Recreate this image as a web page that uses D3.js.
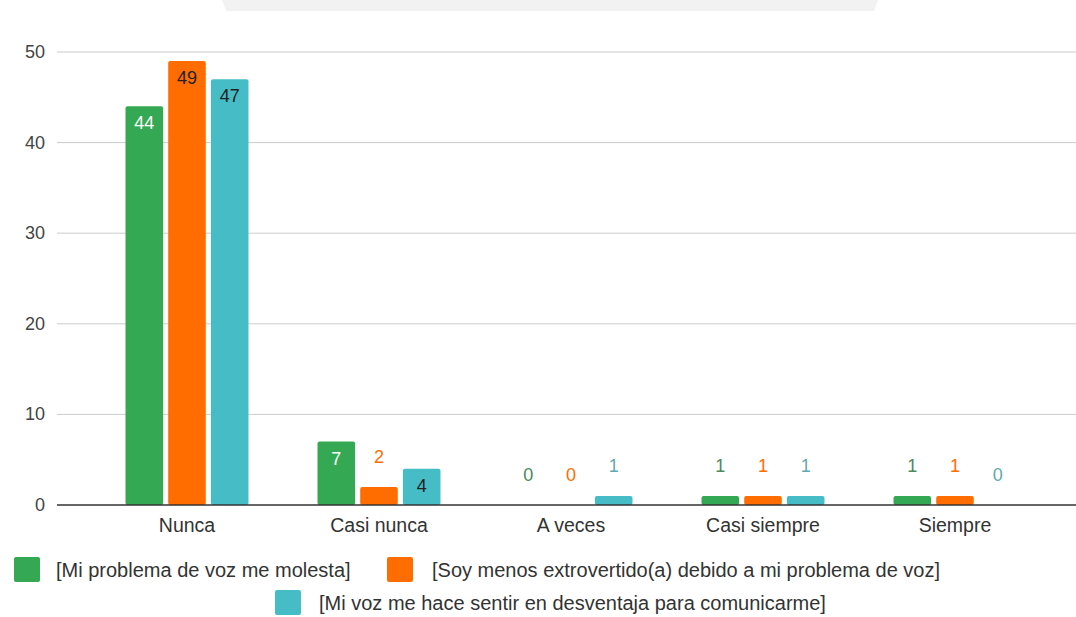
<!DOCTYPE html>
<html>
<head>
<meta charset="utf-8">
<script src="https://cdn.jsdelivr.net/npm/d3@7"></script>
<style>
  body { margin: 0; background: #fff; }
  text { font-family: "Liberation Sans", Arial, sans-serif; }
</style>
</head>
<body>
<div id="chart"></div>
<script>
// categorias y series
var categorias = ["Nunca", "Casi nunca", "A veces", "Casi siempre", "Siempre"];
var series = [
  "[Mi problema de voz me molesta]",
  "[Soy menos extrovertido(a) debido a mi problema de voz]",
  "[Mi voz me hace sentir en desventaja para comunicarme]"
];
var molesta = [44, 7, 0, 1, 1];
var extrovertido = [49, 2, 0, 1, 1];
var desventaja = [47, 4, 1, 1, 0];
var ticksY = [0, 10, 20, 30, 40, 50];

var colores = ["#34a853", "#ff6d01", "#46bdc6"];
var colorDentro = ["#ffffff", "#222222", "#222222"];
var colorFuera = ["#4a8a5c", "#ff6d01", "#5fa9b0"];

var valores = [molesta, extrovertido, desventaja];

var width = 1076, height = 617;

var svg = d3.select("#chart").append("svg")
    .attr("width", width)
    .attr("height", height);

// marca de agua tenue arriba
svg.append("path")
    .attr("d", "M222,0 L878,0 L874,11 L226,11 Z")
    .attr("fill", "#f2f2f2");

var x0 = d3.scaleBand().domain(categorias).range([91, 1051]);
var x1 = d3.scaleBand().domain(d3.range(series.length)).range([-61.5, 61.5]).paddingInner(0.12);
var y = d3.scaleLinear().domain([0, 50]).range([505, 52]);

// lineas de la cuadricula
svg.append("g").selectAll("line")
    .data(ticksY.filter(function(d) { return d > 0; }))
  .enter().append("line")
    .attr("x1", 57).attr("x2", width)
    .attr("y1", function(d) { return y(d); })
    .attr("y2", function(d) { return y(d); })
    .attr("stroke", "#cccccc")
    .attr("stroke-width", 1);

// etiquetas eje Y
svg.append("g").selectAll("text")
    .data(ticksY)
  .enter().append("text")
    .attr("x", 45)
    .attr("y", function(d) { return y(d) + 6; })
    .attr("text-anchor", "end")
    .attr("font-size", "18px")
    .attr("fill", "#444")
    .text(function(d) { return d; });

// barras
var filas = [];
categorias.forEach(function(c, i) {
  valores.forEach(function(v, s) {
    filas.push({cat: c, serie: s, valor: v[i]});
  });
});

svg.append("g").selectAll("rect")
    .data(filas.filter(function(d) { return d.valor > 0; }))
  .enter().append("rect")
    .attr("x", function(d) { return x0(d.cat) + x0.bandwidth() / 2 + x1(d.serie); })
    .attr("y", function(d) { return y(d.valor); })
    .attr("width", x1.bandwidth())
    .attr("height", function(d) { return y(0) - y(d.valor); })
    .attr("rx", 2)
    .attr("fill", function(d) { return colores[d.serie]; });

// linea base
svg.append("line")
    .attr("x1", 57).attr("x2", width)
    .attr("y1", y(0)).attr("y2", y(0))
    .attr("stroke", "#333")
    .attr("stroke-width", 1.3);

// etiquetas de valores
svg.append("g").selectAll("text")
    .data(filas)
  .enter().append("text")
    .attr("x", function(d) { return x0(d.cat) + x0.bandwidth() / 2 + x1(d.serie) + x1.bandwidth() / 2; })
    .attr("y", function(d) {
      var h = y(0) - y(d.valor);
      return h > 30 ? y(d.valor) + 23 : y(d.valor) - 24;
    })
    .attr("text-anchor", "middle")
    .attr("font-size", "18px")
    .attr("fill", function(d) {
      var h = y(0) - y(d.valor);
      return h > 30 ? colorDentro[d.serie] : colorFuera[d.serie];
    })
    .text(function(d) { return d.valor; });

// etiquetas eje X
svg.append("g").selectAll("text")
    .data(categorias)
  .enter().append("text")
    .attr("x", function(d) { return x0(d) + x0.bandwidth() / 2; })
    .attr("y", 532)
    .attr("text-anchor", "middle")
    .attr("font-size", "19.5px")
    .attr("fill", "#333")
    .text(function(d) { return d; });

// leyenda
var leyenda = [
  {x: 14, y: 557, tx: 56, ty: 577},
  {x: 387, y: 557, tx: 432, ty: 577},
  {x: 275, y: 590, tx: 319, ty: 610}
];
var lg = svg.append("g").selectAll("g")
    .data(series)
  .enter().append("g");
lg.append("rect")
    .attr("x", function(d, i) { return leyenda[i].x; })
    .attr("y", function(d, i) { return leyenda[i].y; })
    .attr("width", 26).attr("height", 25)
    .attr("rx", 2)
    .attr("fill", function(d, i) { return colores[i]; });
lg.append("text")
    .attr("x", function(d, i) { return leyenda[i].tx; })
    .attr("y", function(d, i) { return leyenda[i].ty; })
    .attr("font-size", "20px")
    .attr("fill", "#333")
    .text(function(d) { return d; });
</script>
</body>
</html>
